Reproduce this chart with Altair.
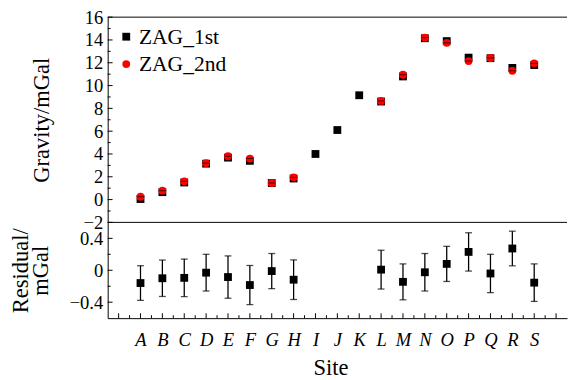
import altair as alt
import pandas as pd

sites = list("ABCDEFGHIJKLMNOPQRS")
grav_1st = [0.05, 0.65, 1.50, 3.15, 3.68, 3.40, 1.45, 1.85, 4.00, 6.10, 9.15,
            8.60, 10.80, 14.15, 13.90, 12.45, 12.40, 11.55, 11.80]
grav_2nd = [0.25, 0.78, 1.60, 3.20, 3.80, 3.60, 1.46, 1.95, None, None, None,
            8.65, 10.95, 14.20, 13.75, 12.15, 12.42, 11.30, 11.95]
residual = [-0.16, -0.10, -0.095, -0.03, -0.085, -0.185, -0.01, -0.118, None, None, None,
            0.008, -0.145, -0.025, 0.08, 0.23, -0.04, 0.273, -0.155]
res_err = [0.217, 0.228, 0.235, 0.23, 0.265, 0.245, 0.22, 0.248, None, None, None,
           0.243, 0.225, 0.235, 0.22, 0.24, 0.24, 0.217, 0.235]
series_names = ["ZAG_1st", "ZAG_2nd"]

FONT = "Liberation Serif"
W = 470
H_TOP = 210
H_BOT = 98

rows = []
for name, vals in zip(series_names, [grav_1st, grav_2nd]):
    for i, v in enumerate(vals):
        if v is not None:
            rows.append({"pos": i + 1, "site": sites[i], "series": name, "g": v})
top_df = pd.DataFrame(rows)
second_df = top_df[top_df.series == "ZAG_2nd"]

res_rows = []
for i, (r, e) in enumerate(zip(residual, res_err)):
    if r is not None:
        res_rows.append({"pos": i + 1, "site": sites[i], "r": r, "lo": r - e, "hi": r + e})
res_df = pd.DataFrame(res_rows)

label_expr = "[" + ",".join("'%s'" % s for s in sites) + "][datum.value - 1] || ''"

xscale = alt.Scale(domain=[-0.5, 20.5], nice=False, zero=False)
ytop_scale = alt.Scale(domain=[-2, 16], nice=False, zero=False)
ybot_scale = alt.Scale(domain=[-0.6, 0.6], nice=False, zero=False)

# ---- top panel ----
pts = alt.Chart(top_df).mark_point(filled=True, size=64, opacity=1).encode(
    x=alt.X("pos:Q", scale=xscale, axis=None),
    y=alt.Y("g:Q", scale=ytop_scale,
            axis=alt.Axis(values=list(range(-2, 17, 2)), tickCount=40, ticks=False, labelPadding=5,
                          format="~g", title="Gravity/mGal", titleX=-61, titleBaseline="alphabetic",
                          labelOverlap=False)),
    color=alt.Color("series:N", scale=alt.Scale(domain=series_names, range=["black", "red"]),
                    legend=alt.Legend(orient="none", legendX=8, legendY=9, title=None,
                                      symbolSize=64, labelFontSize=22, labelFont=FONT,
                                      rowPadding=6, labelOffset=2, padding=0,
                                      symbolStrokeWidth=0)),
    shape=alt.Shape("series:N", scale=alt.Scale(domain=series_names, range=["square", "circle"]),
                    legend=alt.Legend(orient="none", legendX=8, legendY=9, title=None)),
)
caps_top = alt.Chart(second_df).mark_tick(orient="horizontal", size=7, thickness=1, color="black").encode(
    x="pos:Q", y="g:Q")

ytop_major = pd.DataFrame({"v": list(range(-2, 17, 2))})
ytop_minor = pd.DataFrame({"v": list(range(-1, 16, 2))})
tk_top_major = alt.Chart(ytop_major).mark_rule(color="black", strokeWidth=1).encode(
    y="v:Q", x=alt.value(0), x2=alt.value(5))
tk_top_minor = alt.Chart(ytop_minor).mark_rule(color="black", strokeWidth=1).encode(
    y="v:Q", x=alt.value(0), x2=alt.value(3))
top_line = alt.Chart(pd.DataFrame({"a": [0]})).mark_rule(color="black", strokeWidth=1).encode(
    y=alt.value(0), x=alt.value(0), x2=alt.value(W))

top = alt.layer(pts, tk_top_major, tk_top_minor, top_line, caps_top).properties(width=W, height=H_TOP)

# ---- bottom panel ----
bars = alt.Chart(res_df).mark_rule(color="black", strokeWidth=1.3).encode(
    x=alt.X("pos:Q", scale=xscale,
            axis=alt.Axis(values=list(range(1, 20)), tickCount=40, ticks=False, labelExpr=label_expr,
                          labelFontStyle="italic", labelPadding=13, title="Site",
                          titleX=228, titlePadding=8, labelOverlap=False, labelFlush=False)),
    y=alt.Y("lo:Q", scale=ybot_scale,
            axis=alt.Axis(values=[-0.4, 0, 0.4], tickCount=40, ticks=False, labelPadding=5, format="~g",
                          title=["Residual/", "mGal"], titleX=-82, titleBaseline="alphabetic",
                          titleLineHeight=20, labelOverlap=False)),
    y2="hi:Q",
)
caps_lo = alt.Chart(res_df).mark_tick(orient="horizontal", size=7, thickness=1.3, color="black").encode(
    x="pos:Q", y="lo:Q")
caps_hi = alt.Chart(res_df).mark_tick(orient="horizontal", size=7, thickness=1.3, color="black").encode(
    x="pos:Q", y="hi:Q")
res_pts = alt.Chart(res_df).mark_point(shape="square", filled=True, size=64, color="black", opacity=1).encode(
    x="pos:Q", y="r:Q")

x_major = pd.DataFrame({"v": list(range(0, 21))})
x_minor = pd.DataFrame({"v": [i + 0.5 for i in range(0, 20)]})
tk_x_major = alt.Chart(x_major).mark_rule(color="black", strokeWidth=1).encode(
    x="v:Q", y=alt.value(H_BOT), y2=alt.value(H_BOT - 5))
tk_x_minor = alt.Chart(x_minor).mark_rule(color="black", strokeWidth=1).encode(
    x="v:Q", y=alt.value(H_BOT), y2=alt.value(H_BOT - 3))
yb_major = pd.DataFrame({"v": [-0.4, 0, 0.4]})
yb_minor = pd.DataFrame({"v": [-0.2, 0.2]})
tk_yb_major = alt.Chart(yb_major).mark_rule(color="black", strokeWidth=1).encode(
    y="v:Q", x=alt.value(0), x2=alt.value(5))
tk_yb_minor = alt.Chart(yb_minor).mark_rule(color="black", strokeWidth=1).encode(
    y="v:Q", x=alt.value(0), x2=alt.value(3))
mid_line = alt.Chart(pd.DataFrame({"a": [0]})).mark_rule(color="black", strokeWidth=1).encode(
    y=alt.value(0), x=alt.value(0), x2=alt.value(W))

bottom = alt.layer(bars, caps_lo, caps_hi, res_pts, tk_x_major, tk_x_minor,
                   tk_yb_major, tk_yb_minor, mid_line).properties(width=W, height=H_BOT)

chart = alt.vconcat(top, bottom, spacing=0, bounds="flush").properties(
    padding={"left": 2, "top": -4, "right": 0, "bottom": 0}
).configure_view(stroke=None).configure_axis(
    labelFont=FONT, titleFont=FONT, labelFontSize=19, titleFontSize=23,
    labelColor="black", titleColor="black", domainColor="black", domainWidth=1,
    titleFontWeight="normal", grid=False, labelOverlap=False, labelFlush=False,
).configure_legend(labelColor="black")

chart.save("out.html", embed_options={"renderer": "svg", "actions": False})
